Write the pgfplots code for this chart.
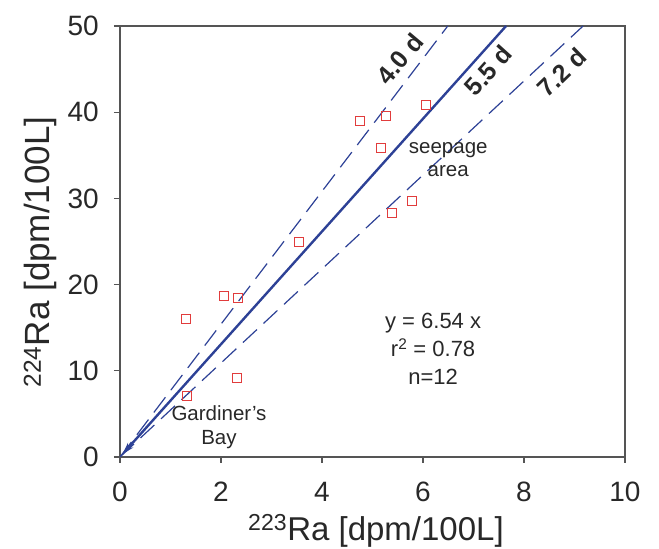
\documentclass[border=0pt]{standalone}
\usepackage{pgfplots}
\pgfplotsset{compat=1.18}
\usepackage{fontspec}
\setmainfont{Liberation Sans}
\usetikzlibrary{arrows.meta}
\definecolor{lineblue}{RGB}{45,65,150}
\definecolor{ptred}{RGB}{225,60,60}
\definecolor{frame}{RGB}{85,85,85}
\definecolor{txt}{RGB}{40,40,40}

\begin{document}
\begin{tikzpicture}
\useasboundingbox (-120pt,-92pt) rectangle (539pt,457pt);
\begin{axis}[
    at={(0,0)}, anchor=south west,
    scale only axis,
    width=505pt, height=431pt,
    xmin=0, xmax=10, ymin=0, ymax=50,
    xtick={0,2,...,10}, ytick={0,10,...,50},
    xtick pos=left, ytick pos=left,
    tick align=outside,
    major tick length=6pt,
    axis line style={frame, line width=1.2pt},
    every tick/.style={frame, line width=1.2pt},
    /pgf/number format/assume math mode=true,
    ticklabel style={font=\fontsize{28}{30}\selectfont, text=txt, inner sep=0pt},
    xticklabel style={anchor=north, yshift=-19pt},
    yticklabel style={anchor=east, xshift=-15pt},
]
% 4.0 d
\addplot[lineblue, line width=1.2pt, dash pattern=on 19pt off 9pt] coordinates {(0,0) (6.49,50)};
% 7.2 d
\addplot[lineblue, line width=1.2pt, dash pattern=on 19pt off 9pt] coordinates {(0,0) (9.17,50)};
% 5.5 d (regression y = 6.54 x)
\addplot[lineblue, line width=2.4pt, -{Stealth[length=12pt,width=7pt]}] coordinates {(7.645,50) (0.05,0.33)};

\addplot[only marks, mark=square, mark size=4.5pt, ptred, mark options={line width=1pt}] coordinates {
    (1.30,16.0) (2.06,18.7) (2.33,18.4) (1.32,7.07)
    (2.32,9.19) (3.55,24.98) (4.76,39.0) (5.26,39.6)
    (5.17,35.9) (6.06,40.8) (5.38,28.3) (5.78,29.7)
};

\begin{scope}[every node/.style={text=txt}]
\node[rotate=50, font=\fontsize{25}{27}\selectfont\bfseries] at (axis cs:5.54,46.2) {4.0 d};
\node[rotate=48, font=\fontsize{25}{27}\selectfont\bfseries] at (axis cs:7.29,44.8) {5.5 d};
\node[rotate=44, font=\fontsize{25}{27}\selectfont\bfseries] at (axis cs:8.75,44.6) {7.2 d};
\node[font=\fontsize{20.5}{23}\selectfont, align=center] at (axis cs:6.5,34.55) {seepage\\area};
\node[font=\fontsize{22}{28}\selectfont, align=center] at (axis cs:6.2,12.5) {y = 6.54 x\\r\textsuperscript{2} = 0.78\\n=12};
\node[font=\fontsize{20.5}{24}\selectfont, align=center] at (axis cs:1.96,3.45) {Gardiner's\\Bay};
\end{scope}
\end{axis}
\node[anchor=base, text=txt, font=\fontsize{33}{35}\selectfont] at (256pt,-83pt) {\textsuperscript{223}Ra [dpm/100L]};
\node[anchor=base, rotate=90, text=txt, font=\fontsize{35}{37}\selectfont] at (-70pt,205pt) {\textsuperscript{224}Ra [dpm/100L]};
\end{tikzpicture}
\end{document}
